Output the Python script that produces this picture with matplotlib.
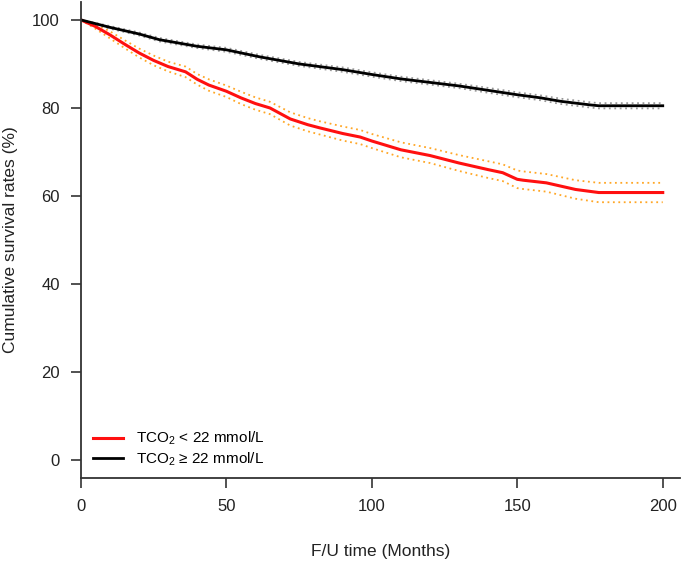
import numpy as np
import matplotlib
matplotlib.use("Agg")
import matplotlib.pyplot as plt

plt.rcParams['font.family'] = ['Liberation Sans', 'DejaVu Sans']
plt.rcParams['mathtext.fontset'] = 'custom'
plt.rcParams['mathtext.rm'] = 'Liberation Sans'
plt.rcParams['mathtext.it'] = 'Liberation Sans:italic'

# low TCO2 group
t_low = [0, 5, 10, 15, 20, 25, 30, 36, 40, 44, 50, 55, 60, 65, 72, 78, 82, 90, 96,
         100, 110, 120, 130, 140, 145, 150, 152, 160, 170, 178, 200]
s_low = [100, 98.5, 96.6, 94.5, 92.5, 90.8, 89.4, 88.2, 86.5, 85.2, 83.8, 82.3, 81.0,
         80.0, 77.5, 76.2, 75.5, 74.2, 73.4, 72.5, 70.5, 69.2, 67.5, 66.0, 65.3, 63.8,
         63.6, 63.0, 61.5, 60.8, 60.8]
hw_low = [0, 0.5, 0.8, 0.9, 1.0, 1.1, 1.1, 1.2, 1.2, 1.3, 1.3, 1.4, 1.4, 1.4, 1.5,
          1.5, 1.5, 1.6, 1.6, 1.6, 1.7, 1.7, 1.8, 1.9, 1.9, 2.0, 2.0, 2.0, 2.1, 2.2, 2.2]

# normal TCO2 group
t_norm = [0, 10, 20, 27, 40, 50, 61.5, 75, 90, 100, 110, 120, 130, 140, 150, 158,
          165, 175, 178, 200]
s_norm = [100, 98.3, 96.8, 95.5, 94.0, 93.2, 91.6, 90.0, 88.7, 87.6, 86.6, 85.8, 85.0,
          84.0, 83.0, 82.3, 81.5, 80.7, 80.5, 80.5]
hw_norm = [0, 0.3, 0.35, 0.4, 0.4, 0.45, 0.45, 0.45, 0.5, 0.5, 0.5, 0.5, 0.5, 0.55,
           0.55, 0.55, 0.6, 0.6, 0.6, 0.6]

labels = ['TCO$_2$ < 22 mmol/L', 'TCO$_2$ ≥ 22 mmol/L']

fig = plt.figure(figsize=(6.85, 5.61), dpi=100)
ax = fig.add_axes([0.118, 0.148, 0.875, 0.848])

s = np.array(s_low); h = np.array(hw_low)
ax.plot(t_low, s + h, color='#FFA726', lw=1.3, ls=(0, (1, 2)))
ax.plot(t_low, s - h, color='#FFA726', lw=1.3, ls=(0, (1, 2)))
s2 = np.array(s_norm); h2 = np.array(hw_norm)
ax.plot(t_norm, s2 + h2, color='#999999', lw=1.3, ls=(0, (1, 2)))
ax.plot(t_norm, s2 - h2, color='#999999', lw=1.3, ls=(0, (1, 2)))

l1, = ax.plot(t_low, s_low, color='#FF1010', lw=2.2)
l2, = ax.plot(t_norm, s_norm, color='black', lw=2.0)

ax.set_xlim(0, 206)
ax.set_ylim(-4, 104)
ax.set_xticks([0, 50, 100, 150, 200])
ax.set_yticks([0, 20, 40, 60, 80, 100])
for sp in ['top', 'right']:
    ax.spines[sp].set_visible(False)
for sp in ['left', 'bottom']:
    ax.spines[sp].set_color('#333333')
    ax.spines[sp].set_linewidth(1.3)
ax.tick_params(direction='out', length=7, width=1.2, color='#333333',
               labelsize=12, labelcolor='#222222', pad=8)

ax.set_xlabel('F/U time (Months)', fontsize=12.5, color='#222222', labelpad=22)
ax.set_ylabel('Cumulative survival rates (%)', fontsize=12.5, color='#222222', labelpad=10)

ax.legend([l1, l2], labels, loc='center left', bbox_to_anchor=(0.02, 0.061),
          frameon=False, fontsize=11, handlelength=2.0, handletextpad=0.8,
          labelspacing=0.2, borderaxespad=0, borderpad=0)

fig.savefig('out.png', dpi=100)
